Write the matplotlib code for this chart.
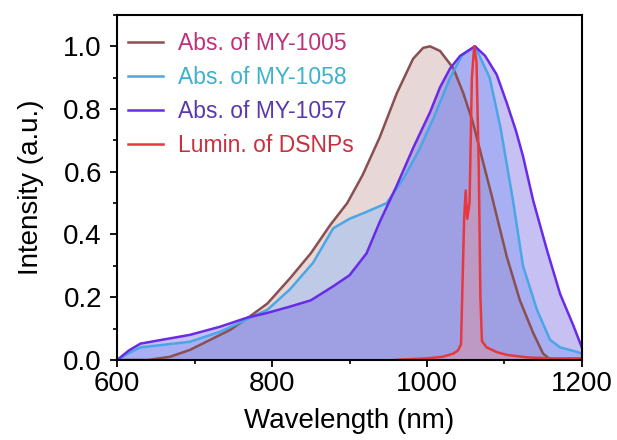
import numpy as np
import matplotlib.pyplot as plt
from matplotlib.ticker import MultipleLocator

plt.rcParams['font.family'] = ['Liberation Sans', 'DejaVu Sans']

# ---- data ----
wl_1005 = [600, 640, 668, 694, 720, 746, 772, 794, 823, 850, 875, 897, 917, 939,
           961, 982, 995, 1004, 1017, 1034, 1047, 1059, 1084, 1103, 1120, 1137,
           1150, 1160]
abs_1005 = [0, 0, 0.01, 0.032, 0.064, 0.096, 0.14, 0.18, 0.26, 0.34, 0.43, 0.50,
            0.59, 0.71, 0.85, 0.96, 0.995, 1.0, 0.985, 0.93, 0.85, 0.76, 0.52,
            0.33, 0.19, 0.087, 0.02, 0.0]

wl_1058 = [600, 615, 630, 694, 733, 768, 794, 823, 853, 879, 900, 920, 948, 970,
           990, 1010, 1030, 1045, 1062, 1081, 1095, 1111, 1124, 1142, 1159, 1172,
           1193, 1200]
abs_1058 = [0, 0.022, 0.04, 0.058, 0.09, 0.13, 0.16, 0.225, 0.31, 0.42, 0.45,
            0.47, 0.50, 0.58, 0.67, 0.78, 0.90, 0.97, 1.0, 0.90, 0.74, 0.51, 0.30,
            0.16, 0.064, 0.04, 0.026, 0.02]

wl_1057 = [600, 615, 630, 694, 733, 768, 794, 823, 850, 879, 900, 922, 939, 961,
           982, 1004, 1017, 1030, 1043, 1062, 1075, 1090, 1103, 1115, 1124, 1137,
           1146, 1155, 1172, 1189, 1200]
abs_1057 = [0, 0.03, 0.052, 0.08, 0.106, 0.135, 0.15, 0.17, 0.19, 0.235, 0.27,
            0.34, 0.44, 0.556, 0.675, 0.79, 0.87, 0.93, 0.97, 1.0, 0.97, 0.91,
            0.82, 0.73, 0.65, 0.51, 0.43, 0.35, 0.21, 0.11, 0.04]

wl_dsnp = [958, 1000, 1020, 1034, 1040, 1044, 1046, 1048, 1050, 1052, 1055, 1058,
           1061, 1064, 1067, 1069, 1071, 1077, 1090, 1103, 1130, 1160, 1200]
lum_dsnp = [0, 0.005, 0.01, 0.02, 0.03, 0.05, 0.25, 0.45, 0.54, 0.45, 0.5, 0.9,
            1.0, 0.95, 0.6, 0.2, 0.06, 0.04, 0.025, 0.016, 0.008, 0.005, 0.005]

series = [
    ("Abs. of MY-1005", wl_1005, abs_1005, "#8a4f50", "#c09898", "#c0307a"),
    ("Abs. of MY-1058", wl_1058, abs_1058, "#4aa6e6", "#7fb8ff", "#3fb0d0"),
    ("Abs. of MY-1057", wl_1057, abs_1057, "#6a2be8", "#6a5ae0", "#5a38b0"),
    ("Lumin. of DSNPs", wl_dsnp, lum_dsnp, "#e8383d", "#f29090", "#c83040"),
]

fig = plt.figure(figsize=(6.17, 4.40), dpi=100)
ax = fig.add_axes([0.19, 0.182, 0.753, 0.784])

for label, x, y, lc, fc, tc in series:
    ax.fill_between(x, y, 0, color=fc, alpha=0.38, lw=0)
    ax.plot(x, y, color=lc, lw=1.8, label=label)

ax.set_xlim(600, 1200)
ax.set_ylim(0, 1.1)
ax.xaxis.set_major_locator(MultipleLocator(200))
ax.xaxis.set_minor_locator(MultipleLocator(100))
ax.yaxis.set_major_locator(MultipleLocator(0.2))
ax.yaxis.set_minor_locator(MultipleLocator(0.1))
ax.yaxis.set_major_formatter(plt.FormatStrFormatter('%.1f'))
ax.tick_params(which='major', direction='out', length=5, width=1.3, labelsize=20)
ax.tick_params(axis='x', which='major', pad=3)
ax.tick_params(axis='y', which='major', pad=6)
ax.tick_params(which='minor', direction='out', length=3, width=1.2)
for sp in ax.spines.values():
    sp.set_linewidth(1.5)

ax.set_xlabel("Wavelength (nm)", fontsize=20, labelpad=8)
ax.set_ylabel("Intensity (a.u.)", fontsize=20, labelpad=14)

leg = ax.legend(loc='upper left', bbox_to_anchor=(0.004, 0.976), frameon=False,
                fontsize=16.5, handlelength=1.5, handletextpad=0.65,
                labelspacing=0.47, borderaxespad=0.0)
for txt, s in zip(leg.get_texts(), series):
    txt.set_color(s[5])

fig.savefig("out.png", dpi=100)
